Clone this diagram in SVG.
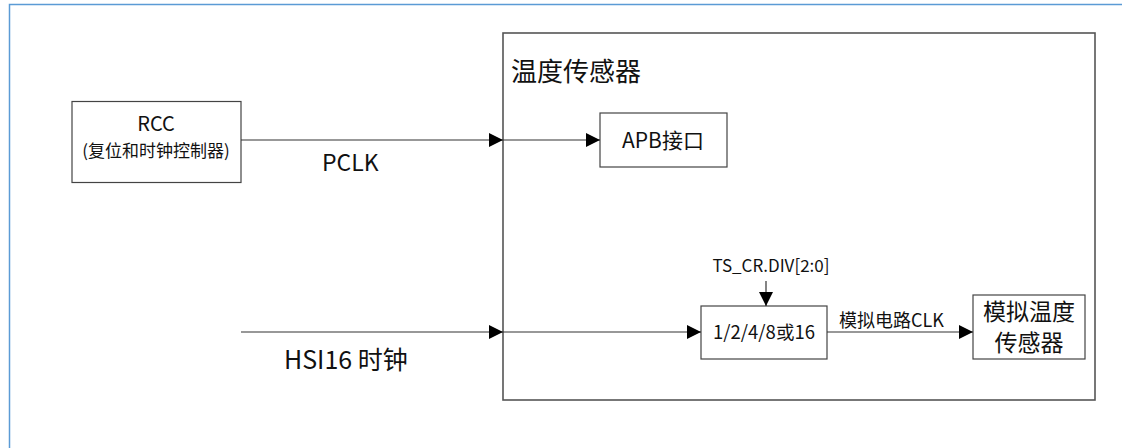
<svg xmlns="http://www.w3.org/2000/svg" width="1122" height="448" viewBox="0 0 1122 448">
<style>
text{font-family:"Noto Sans CJK SC","Noto Sans",sans-serif;fill:#111}
.box{fill:#fff;stroke:#444;stroke-width:1.2}
.main{fill:none;stroke:#555;stroke-width:1.6}
.ln{stroke:#333;stroke-width:1.2;fill:none}
</style>
<defs>
<marker id="ah" viewBox="0 0 10 10" refX="10" refY="5" markerWidth="14" markerHeight="14" markerUnits="userSpaceOnUse" orient="auto"><path d="M0,0 L10,5 L0,10 z" fill="#000"/></marker>
</defs>
<rect width="1122" height="448" fill="#fff"/>
<g id="frame"><path d="M9.5,448 V4.5 H1122" fill="none" stroke="#5b9bd5" stroke-width="1.5"/></g>
<g id="sensor"><rect class="main" x="503" y="33" width="592" height="367"/><text x="511" y="81" font-size="26">温度传感器</text></g>
<g id="rcc"><rect class="box" x="72" y="101.5" width="169" height="81"/><text x="156" y="131" font-size="20" text-anchor="middle">RCC</text><text x="156" y="157" font-size="17" text-anchor="middle">(复位和时钟控制器)</text></g>
<g id="apb"><rect class="box" x="600" y="113" width="127" height="54"/><text x="663" y="148" font-size="21" text-anchor="middle">APB接口</text></g>
<g id="div"><rect class="box" x="701" y="306" width="126" height="53"/><text x="764" y="339" font-size="18.5" text-anchor="middle">1/2/4/8或16</text></g>
<g id="analog"><rect class="box" x="973" y="295" width="112" height="64"/><text x="1029" y="320" font-size="23" text-anchor="middle">模拟温度</text><text x="1029" y="351" font-size="23" text-anchor="middle">传感器</text></g>
<g id="connectors">
<line class="ln" x1="241" y1="140" x2="503" y2="140" marker-end="url(#ah)"/>
<line class="ln" x1="503" y1="140" x2="600" y2="140" marker-end="url(#ah)"/>
<line class="ln" x1="241" y1="332" x2="503" y2="332" marker-end="url(#ah)"/>
<line class="ln" x1="503" y1="332" x2="701" y2="332" marker-end="url(#ah)"/>
<line class="ln" x1="766" y1="281" x2="766" y2="306" marker-end="url(#ah)"/>
<line class="ln" x1="827" y1="332" x2="973" y2="332" marker-end="url(#ah)"/>
</g>
<g id="labels">
<text x="322" y="171" font-size="23">PCLK</text>
<text x="284" y="369" font-size="25">HSI16 时钟</text>
<text x="771" y="272" font-size="17" text-anchor="middle">TS_CR.DIV[2:0]</text>
<text x="839" y="327" font-size="18">模拟电路CLK</text>
</g>
</svg>
